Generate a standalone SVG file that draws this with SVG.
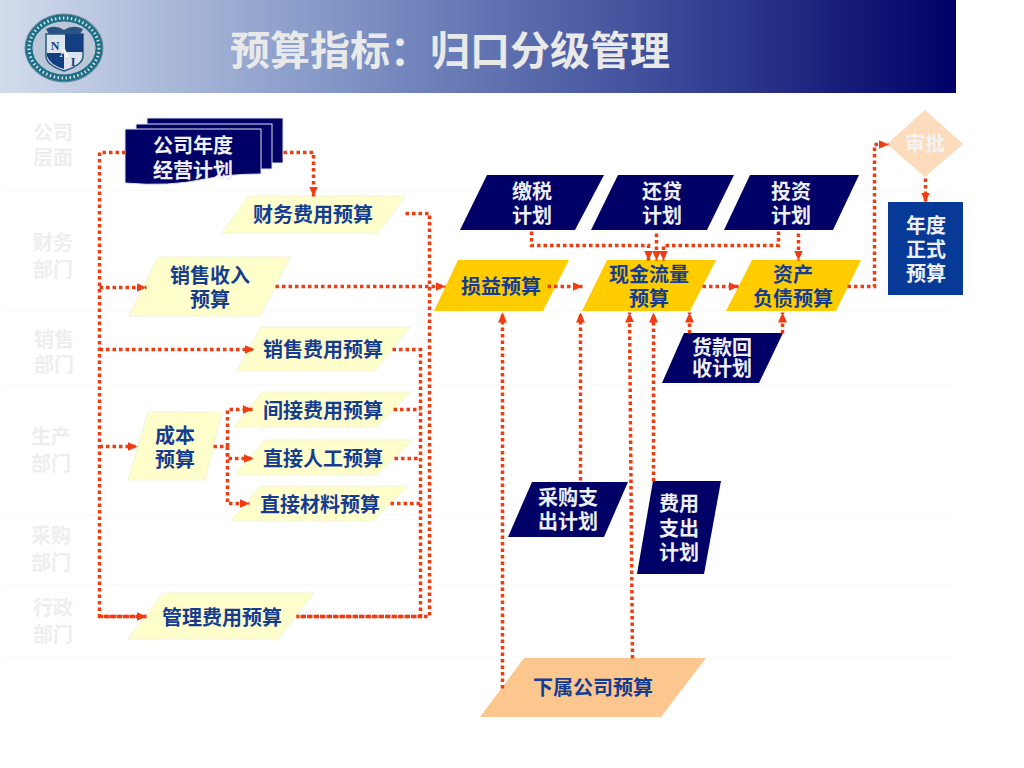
<svg xmlns="http://www.w3.org/2000/svg" width="1024" height="768" viewBox="0 0 1024 768">
<style>
text{font-family:"Noto Sans CJK SC","Liberation Sans",sans-serif;font-weight:700;font-size:20px;text-anchor:middle}
.dept{fill:#eeeeee}
.w{fill:#eef0f8}
.b{fill:#163c92}
.navy{fill:#000066}
.yel{fill:#ffffcc;stroke:#f2f2d8;stroke-width:1}
.gold{fill:#ffcc00}
.peach{fill:#fcc78e}
.c{fill:none;stroke:#f03c10;stroke-width:3.500;stroke-dasharray:3.500 3}
.a{marker-end:url(#ah)}
.row{stroke:#f7f7f7;stroke-width:1}
.lg{font-size:12px;font-family:"Liberation Serif",serif;fill:#123f80}
</style>
<defs>
<linearGradient id="hdr" x1="0" y1="0" x2="1" y2="0">
<stop offset="0" stop-color="#d3dcec"/><stop offset="0.36" stop-color="#8094c5"/><stop offset="0.7" stop-color="#3a4a98"/><stop offset="1" stop-color="#000066"/>
</linearGradient>
<marker id="ah" markerUnits="userSpaceOnUse" markerWidth="11" markerHeight="11" refX="10" refY="5.5" orient="auto">
<path d="M0 1L10 5.500L0 10Z" fill="#f03c10"/>
</marker>
</defs>
<rect width="1024" height="768" fill="#fff"/>
<rect id="header" x="0" y="0" width="956" height="93" fill="url(#hdr)"/>
<g id="logo">
<ellipse cx="64" cy="48" rx="39" ry="34" fill="#b9c7d9" stroke="#5f7f92" stroke-width="1"/>
<ellipse cx="64" cy="48" rx="35" ry="30" fill="none" stroke="#1c6f86" stroke-width="7"/>
<ellipse cx="64" cy="48" rx="35" ry="30" fill="none" stroke="#d5e2ea" stroke-width="3" stroke-dasharray="1.500 2.500"/>
<path d="M46 29Q55 24 64 30Q73 24 83 29L80 34H49Z" fill="#28527f"/>
<path d="M46 34H83V56Q83 65 64 71Q46 65 46 56Z" fill="#dbe3ec" stroke="#2a5a80" stroke-width="1.500"/>
<path d="M65 34H83V52H65Z" fill="#133f80"/>
<path d="M47 53H64V69Q50 65 47 56Z" fill="#133f80"/>
<text class="lg" x="55" y="50">N</text>
<text class="lg" x="64" y="57" style="fill:#fff">A</text>
<text class="lg" x="73" y="66">I</text>
</g>
<text id="title" x="450" y="65" style="font-size:40px;fill:#e9e9e9">预算指标：归口分级管理</text>
<g id="rows">
<line class="row" x1="5" y1="190" x2="950" y2="190"/>
<line class="row" x1="5" y1="310" x2="950" y2="310"/>
<line class="row" x1="5" y1="385" x2="950" y2="385"/>
<line class="row" x1="5" y1="515" x2="950" y2="515"/>
<line class="row" x1="5" y1="585" x2="950" y2="585"/>
<line class="row" x1="5" y1="657" x2="950" y2="657"/>
</g>
<g id="departments">
<text class="dept" x="53" y="140">公司</text><text class="dept" x="53" y="165">层面</text>
<text class="dept" x="53" y="250">财务</text><text class="dept" x="53" y="277">部门</text>
<text class="dept" x="54" y="347">销售</text><text class="dept" x="54" y="372">部门</text>
<text class="dept" x="51" y="444">生产</text><text class="dept" x="51" y="471">部门</text>
<text class="dept" x="51" y="543">采购</text><text class="dept" x="51" y="570">部门</text>
<text class="dept" x="53" y="615">行政</text><text class="dept" x="53" y="642">部门</text>
</g>
<g id="plan-doc">
<rect x="147" y="118" width="136" height="45" class="navy" stroke="#dfe3ee" stroke-width="1"/>
<rect x="136" y="124" width="136" height="45" class="navy" stroke="#dfe3ee" stroke-width="1"/>
<path d="M125 129H261V174Q230 174 205 179Q170 187 125 183Z" class="navy" stroke="#dfe3ee" stroke-width="1"/>
<text class="w" x="193" y="153">公司年度</text><text class="w" x="193" y="178">经营计划</text>
</g>
<g id="n-caiwu"><polygon class="yel" points="248,196 405,196 378,233 222,233"/><text class="b" x="313" y="222">财务费用预算</text></g>
<g id="n-shouru"><polygon class="yel" points="158,257 291,257 260,316 129,316"/><text class="b" x="210" y="283">销售收入</text><text class="b" x="210" y="307">预算</text></g>
<g id="n-xiaoshou"><polygon class="yel" points="261,327 410,327 375,371 237,371"/><text class="b" x="323" y="357">销售费用预算</text></g>
<g id="n-chengben"><polygon class="yel" points="148,412 222,412 205,480 128,480"/><text class="b" x="175" y="443">成本</text><text class="b" x="175" y="467">预算</text></g>
<g id="n-jianjie"><polygon class="yel" points="262,392 411,392 377,427 234,427"/><text class="b" x="323" y="418">间接费用预算</text></g>
<g id="n-rengong"><polygon class="yel" points="265,440 413,440 377,475 235,475"/><text class="b" x="323" y="466">直接人工预算</text></g>
<g id="n-cailiao"><polygon class="yel" points="260,486 408,486 373,521 231,521"/><text class="b" x="320" y="512">直接材料预算</text></g>
<g id="n-guanli"><polygon class="yel" points="163,593 314,593 278,639 128,639"/><text class="b" x="222" y="625">管理费用预算</text></g>
<g id="n-jiaoshui"><polygon class="navy" points="487,175 604,175 575,230 460,230"/><text class="w" x="532" y="199">缴税</text><text class="w" x="532" y="223">计划</text></g>
<g id="n-huandai"><polygon class="navy" points="618,175 734,175 707,230 591,230"/><text class="w" x="662" y="199">还贷</text><text class="w" x="662" y="223">计划</text></g>
<g id="n-touzi"><polygon class="navy" points="750,175 859,175 833,230 724,230"/><text class="w" x="791" y="199">投资</text><text class="w" x="791" y="223">计划</text></g>
<g id="n-sunyi"><polygon class="gold" points="458,260 569,260 543,311 434,311"/><text class="b" x="501" y="294">损益预算</text></g>
<g id="n-xianjin"><polygon class="gold" points="607,260 716,260 690,311 582,311"/><text class="b" x="649" y="282">现金流量</text><text class="b" x="649" y="306">预算</text></g>
<g id="n-zichan"><polygon class="gold" points="752,260 861,260 836,311 726,311"/><text class="b" x="793" y="282">资产</text><text class="b" x="793" y="306">负债预算</text></g>
<g id="n-huokuan"><polygon class="navy" points="684,333 783,333 759,383 662,383"/><text class="w" x="722" y="355">货款回</text><text class="w" x="722" y="376">收计划</text></g>
<g id="n-caigou"><polygon class="navy" points="532,482 628,482 604,537 508,537"/><text class="w" x="568" y="505">采购支</text><text class="w" x="568" y="529">出计划</text></g>
<g id="n-feiyong"><polygon class="navy" points="653,481 721,481 704,574 637,574"/><text class="w" x="679" y="511">费用</text><text class="w" x="679" y="536">支出</text><text class="w" x="679" y="560">计划</text></g>
<g id="n-xiashu"><polygon class="peach" points="524,658 706,658 661,717 480,717"/><text class="b" x="593" y="695">下属公司预算</text></g>
<g id="n-shenpi"><polygon points="925,110 963,144 925,177 887,144" fill="#fcdcbc"/><text x="925" y="151" fill="#f3f3f3">审批</text></g>
<g id="n-niandu"><rect x="888" y="202" width="75" height="93" fill="#063a96"/><text class="w" x="926" y="233">年度</text><text class="w" x="926" y="257">正式</text><text class="w" x="926" y="281">预算</text></g>
<g id="connectors" transform="translate(0.5 0.5)">
<path class="c" d="M125 152H99V616H146"/>
<path class="c a" d="M99 287H146"/>
<path class="c a" d="M99 349H254"/>
<path class="c a" d="M99 446H137"/>
<path class="c a" d="M99 616H146"/>
<path class="c a" d="M283 152H313V196"/>
<path class="c" d="M405 213H429V616H296"/>
<path class="c" d="M392 349H420V616H296"/>
<path class="c" d="M393 409H420"/>
<path class="c" d="M394 458H420"/>
<path class="c" d="M390 503H420"/>
<path class="c" d="M213 446H227"/>
<path class="c a" d="M227 446V409H252"/>
<path class="c a" d="M227 446V458H253"/>
<path class="c a" d="M227 446V503H249"/>
<path class="c a" d="M275 286H445"/>
<path class="c a" d="M547 286H582"/>
<path class="c a" d="M702 286H738"/>
<path class="c a" d="M847 286H874V144H888"/>
<path class="c a" d="M925 178V202"/>
<path class="c a" d="M531 231V245H648V260"/>
<path class="c a" d="M656 233V260"/>
<path class="c a" d="M778 231V245H663V260"/>
<path class="c a" d="M798 233V260"/>
<path class="c a" d="M502 688V312"/>
<path class="c a" d="M580 480V312"/>
<path class="c a" d="M632 658L629 312"/>
<path class="c a" d="M653 481V312"/>
<path class="c a" d="M689 333V312"/>
<path class="c a" d="M782 333V312"/>
</g>
</svg>
